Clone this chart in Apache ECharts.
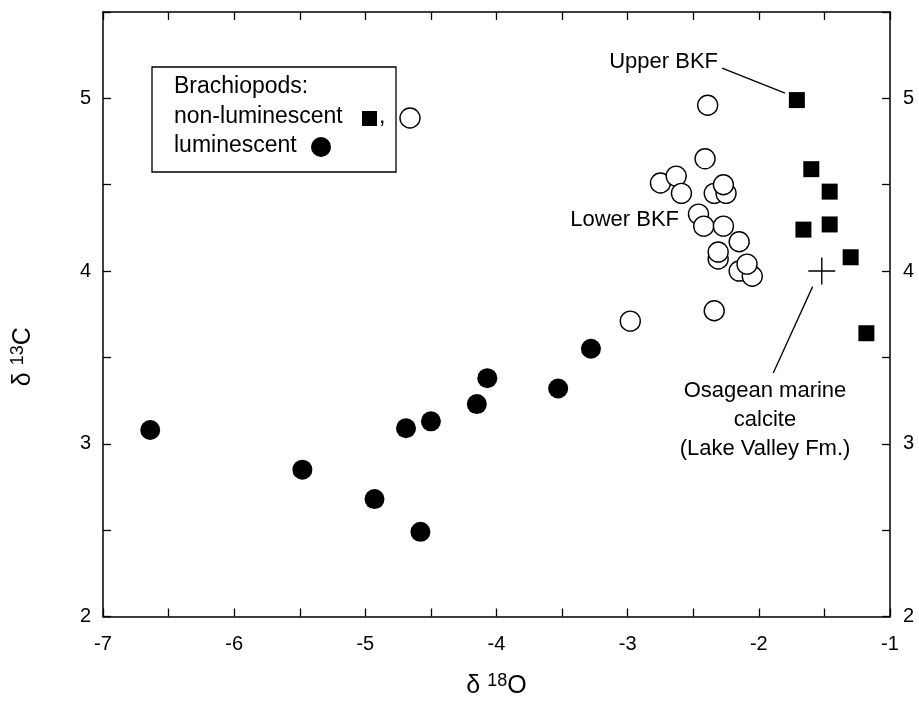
<!DOCTYPE html>
<html>
<head>
<meta charset="utf-8">
<script src="https://cdn.jsdelivr.net/npm/echarts@6/dist/echarts.min.js"></script>
<style>
  html, body { margin: 0; padding: 0; background: #fff; }
  #chart { width: 919px; height: 704px; }
</style>
</head>
<body>
<div id="chart"></div>
<script>
// luminescent brachiopods (filled circles) [d18O, d13C]
var luminescent = [
  [-6.64, 3.08], [-5.48, 2.85], [-4.93, 2.68], [-4.58, 2.49], [-4.69, 3.09],
  [-4.50, 3.13], [-4.15, 3.23], [-4.07, 3.38], [-3.53, 3.32], [-3.28, 3.55]
];
// non-luminescent, lower BKF (open circles)
var lowerBKF = [
  [-2.39, 4.96], [-2.41, 4.65], [-2.75, 4.51], [-2.63, 4.55], [-2.59, 4.45],
  [-2.34, 4.45], [-2.25, 4.45], [-2.27, 4.50], [-2.46, 4.33], [-2.42, 4.26],
  [-2.27, 4.26], [-2.15, 4.17], [-2.31, 4.07], [-2.31, 4.11], [-2.15, 4.00],
  [-2.05, 3.97], [-2.09, 4.04], [-2.34, 3.77], [-2.98, 3.71]
];
// non-luminescent, upper BKF (filled squares)
var upperBKF = [
  [-1.71, 4.99], [-1.60, 4.59], [-1.46, 4.46], [-1.66, 4.24], [-1.46, 4.27],
  [-1.30, 4.08], [-1.18, 3.64]
];
// Osagean marine calcite (Lake Valley Fm.)
var marineCalcite = [[-1.52, 4.0]];

// leader lines for the labels
var leaders = [
  [[-2.28, 5.175], [-1.80, 5.03]],
  [[-1.59, 3.91], [-1.89, 3.41]]
];

var xTicks = { min: -7, max: -1, interval: 0.5 };
var yTicks = { min: 2, max: 5.5, interval: 0.5 };

var font = "Liberation Sans, Arial, sans-serif";

function intOnly(v) {
  return Math.abs(v - Math.round(v)) < 1e-6 ? String(Math.round(v)) : "";
}

var chart = echarts.init(document.getElementById("chart"));

var axisLine = { show: true, lineStyle: { color: "#000", width: 1.5 } };
var axisTick = { show: true, inside: true, length: 8, lineStyle: { color: "#000", width: 1.3 } };

var titleRich = {
  d: { fontSize: 25, fontFamily: font, color: "#000" },
  s: { fontSize: 18, fontFamily: font, color: "#000", padding: [0, 0, 10, 0] },
  o: { fontSize: 25, fontFamily: font, color: "#000" }
};

var option = {
  backgroundColor: "#fff",
  animation: false,
  grid: { left: 103, right: 29, top: 12, bottom: 87 },
  xAxis: [
    {
      type: "value", position: "bottom",
      min: xTicks.min, max: xTicks.max, interval: xTicks.interval,
      axisLine: axisLine, axisTick: axisTick, splitLine: { show: false },
      axisLabel: { formatter: intOnly, color: "#000", fontSize: 20, fontFamily: font, margin: 18 },
      name: "{d|δ }{s|18}{o|O}",
      nameLocation: "middle", nameGap: 56,
      nameTextStyle: { color: "#000", fontFamily: font, rich: titleRich }
    },
    {
      type: "value", position: "top",
      min: xTicks.min, max: xTicks.max, interval: xTicks.interval,
      axisLine: axisLine, axisTick: axisTick, splitLine: { show: false },
      axisLabel: { show: false }
    }
  ],
  yAxis: [
    {
      type: "value", position: "left",
      min: yTicks.min, max: yTicks.max, interval: yTicks.interval,
      axisLine: axisLine, axisTick: axisTick, splitLine: { show: false },
      axisLabel: { formatter: intOnly, color: "#000", fontSize: 20, fontFamily: font, margin: 12 },
      name: "{d|δ }{s|13}{o|C}",
      nameLocation: "middle", nameGap: 66, nameRotate: 90,
      nameTextStyle: { color: "#000", fontFamily: font, padding: [0, 85, 0, 0], rich: titleRich }
    },
    {
      type: "value", position: "right",
      min: yTicks.min, max: yTicks.max, interval: yTicks.interval,
      axisLine: axisLine, axisTick: axisTick, splitLine: { show: false },
      axisLabel: { formatter: intOnly, color: "#000", fontSize: 20, fontFamily: font, margin: 13 }
    }
  ],
  series: [
    {
      name: "luminescent", type: "scatter", data: luminescent,
      symbol: "circle", symbolSize: 20,
      itemStyle: { color: "#000", opacity: 1 }
    },
    {
      name: "lower BKF", type: "scatter", data: lowerBKF,
      symbol: "circle", symbolSize: 20,
      itemStyle: { color: "#fff", borderColor: "#000", borderWidth: 1.4, opacity: 1 }
    },
    {
      name: "upper BKF", type: "scatter", data: upperBKF,
      symbol: "rect", symbolSize: 16,
      itemStyle: { color: "#000", opacity: 1 }
    },
    {
      name: "marine calcite", type: "scatter", data: marineCalcite,
      symbol: "path://M0,13 L26,13 M13,0 L13,26", symbolSize: 27,
      itemStyle: { color: "none", borderColor: "#000", borderWidth: 1.4, opacity: 1 },
      markLine: {
        silent: true, symbol: "none", animation: false,
        label: { show: false },
        lineStyle: { color: "#000", width: 1.3, type: "solid" },
        data: leaders.map(function (l) { return [{ coord: l[0] }, { coord: l[1] }]; })
      }
    }
  ],
  graphic: [
    {
      type: "rect", shape: { x: 152, y: 67, width: 244, height: 105 },
      style: { fill: "#fff", stroke: "#000", lineWidth: 1.3 }, z: 10
    },
    { type: "text", left: 174, top: 75, z: 11,
      style: { text: "Brachiopods:", font: "23px " + font, fill: "#000" } },
    { type: "text", left: 174, top: 105, z: 11,
      style: { text: "non-luminescent", font: "23px " + font, fill: "#000" } },
    { type: "rect", shape: { x: 362, y: 111, width: 15, height: 15 }, style: { fill: "#000" }, z: 11 },
    { type: "text", left: 379, top: 105, z: 11,
      style: { text: ",", font: "23px " + font, fill: "#000" } },
    { type: "circle", shape: { cx: 410, cy: 118, r: 10 }, style: { fill: "#fff", stroke: "#000", lineWidth: 1.4 }, z: 11 },
    { type: "text", left: 174, top: 134, z: 11,
      style: { text: "luminescent", font: "23px " + font, fill: "#000" } },
    { type: "circle", shape: { cx: 321, cy: 147, r: 10 }, style: { fill: "#000" }, z: 11 },

    { type: "text", right: 919 - 718, top: 51, z: 11,
      style: { text: "Upper BKF", font: "22px " + font, fill: "#000" } },
    { type: "text", right: 919 - 679, top: 209, z: 11,
      style: { text: "Lower BKF", font: "22px " + font, fill: "#000" } },
    { type: "text", x: 765, y: 376, z: 11,
      style: { text: "Osagean marine\ncalcite\n(Lake Valley Fm.)", font: "22px " + font,
               fill: "#000", textAlign: "center", lineHeight: 29 } }
  ]
};

chart.setOption(option);
</script>
</body>
</html>
